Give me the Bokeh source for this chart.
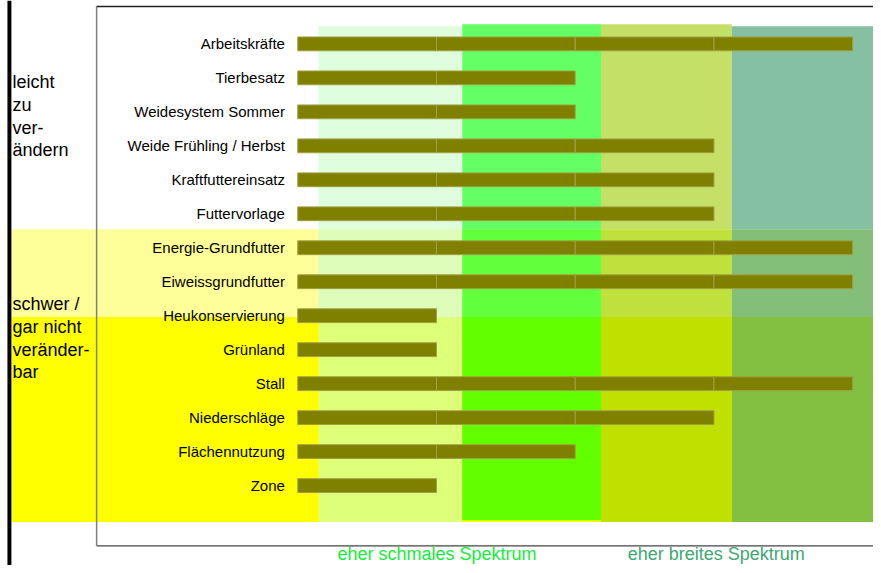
from bokeh.plotting import figure
from bokeh.models import Range1d
from bokeh.core.properties import value
from bokeh.embed import file_html
from bokeh.resources import INLINE

# ---------------- data ----------------
categories = [
    "Arbeitskräfte", "Tierbesatz", "Weidesystem Sommer", "Weide Frühling / Herbst",
    "Kraftfuttereinsatz", "Futtervorlage", "Energie-Grundfutter", "Eiweissgrundfutter",
    "Heukonservierung", "Grünland", "Stall", "Niederschläge", "Flächennutzung", "Zone",
]
values = [4, 2, 2, 3, 3, 3, 4, 4, 1, 1, 4, 3, 2, 1]
group_easy = ["leicht", "zu", "ver-", "ändern"]
group_hard = ["schwer /", "gar  nicht", "veränder-", "bar"]
spectrum_labels = ["eher schmales Spektrum", "eher breites Spektrum"]
spectrum_colors = ["#14EE3A", "#3DA870"]

# ---------------- layout helpers (reference px -> data units) ----------------
W, H = 873, 565          # figure size (fits the 881x573 window with 8px margin)
REF_W, REF_H = 881, 573  # reference picture size, mapped onto the figure
X0_PX, UNIT_PX = 300.0, 140.0
Y0_PX, ROW_PX = 44.0, 34.46


def ux(px):
    return (px - X0_PX) / UNIT_PX


def uy(py):
    return (py - Y0_PX) / ROW_PX


FONT = value("Liberation Sans")

p = figure(
    width=W, height=H,
    x_range=Range1d(ux(0), ux(REF_W)),
    y_range=Range1d(uy(REF_H), uy(0)),
    output_backend="svg", toolbar_location=None,
    x_axis_location=None, y_axis_location=None,
    min_border=0, outline_line_color=None,
    background_fill_color="white", border_fill_color="white",
)
p.grid.visible = False

# background bands (left, right, top, bottom in reference px, colour)
bands = [
    (11, 881, 232, 321, "#FFFF99"),
    (11, 881, 321, 529, "#FFFF00"),
    (321, 466, 26, 232, "#DEFEDE"), (321, 466, 232, 321, "#DEFDBB"), (321, 466, 321, 529, "#DEFF7A"),
    (466, 606, 24, 232, "#64FF64"), (466, 606, 232, 321, "#62FF3C"), (466, 606, 321, 527, "#62FF00"),
    (606, 738, 24, 232, "#C4E066"), (606, 738, 232, 321, "#C0E03C"), (606, 738, 321, 529, "#C0E000"),
    (738, 881, 26, 232, "#84C0A1"), (738, 881, 232, 321, "#83BF78"), (738, 881, 321, 529, "#83BF40"),
]
p.quad(
    left=[ux(b[0]) for b in bands], right=[ux(b[1]) for b in bands],
    top=[uy(b[2]) for b in bands], bottom=[uy(b[3]) for b in bands],
    fill_color=[b[4] for b in bands], line_color=None,
)

# black vertical bar at the left edge
p.quad(left=[ux(7)], right=[ux(11)], top=[uy(0)], bottom=[uy(573)],
       fill_color="black", line_color=None)

# frame box lines
p.segment(x0=[ux(97)], y0=[uy(6)], x1=[ux(97)], y1=[uy(553)], line_color="#808080", line_width=1.5)
p.segment(x0=[ux(97)], y0=[uy(6)], x1=[ux(881)], y1=[uy(6)], line_color="#222222", line_width=1.5)
p.segment(x0=[ux(97)], y0=[uy(553)], x1=[ux(881)], y1=[uy(553)], line_color="#444444", line_width=1.2)

# bars, built from unit segments
seg_y, seg_l, seg_r = [], [], []
for i, v in enumerate(values):
    for k in range(v):
        seg_y.append(i)
        seg_l.append(k)
        seg_r.append(k + 1)
p.hbar(y=seg_y, left=seg_l, right=seg_r, height=14 / ROW_PX,
       fill_color="#808000", line_color="#A0A044", line_width=1)

# category labels
n = len(categories)
p.text(x=[ux(287)] * n, y=list(range(n)), text=categories,
       text_font=FONT, text_font_size="15px", text_color="#000000",
       text_align="right", text_baseline="middle")

# group texts on the left (line centres)
easy_mid = [83, 106, 129, 152]
hard_mid = [308, 331, 354, 377]
p.text(x=[ux(12)] * len(group_easy), y=[uy(b) for b in easy_mid], text=group_easy,
       text_font=FONT, text_font_size="18px", text_color="#000000",
       text_align="left", text_baseline="middle")
p.text(x=[ux(12)] * len(group_hard), y=[uy(b) for b in hard_mid], text=group_hard,
       text_font=FONT, text_font_size="18px", text_color="#000000",
       text_align="left", text_baseline="middle")

# spectrum labels below the frame
p.text(x=[ux(340), ux(633)], y=[uy(561)] * 2, text=spectrum_labels,
       text_font=FONT, text_font_size="18px", text_color=spectrum_colors,
       text_align="left", text_baseline="middle")

open("out.html", "w").write(file_html(p, INLINE))
